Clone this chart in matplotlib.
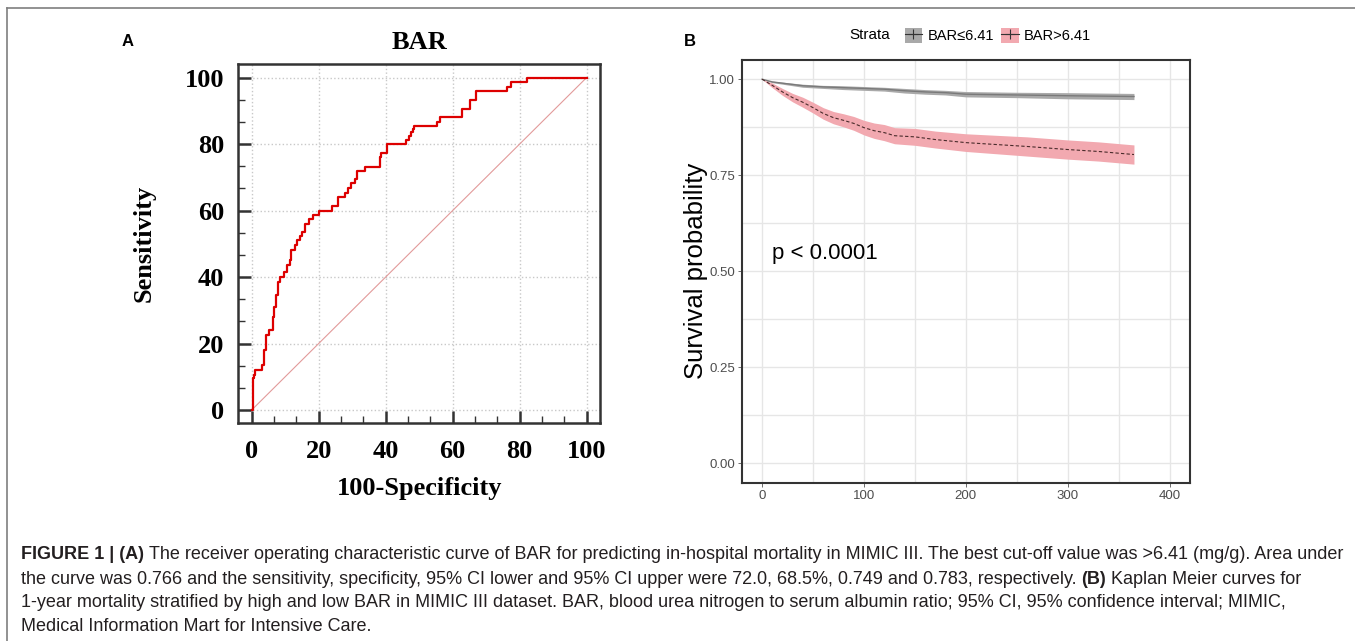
import numpy as np
import matplotlib.pyplot as plt
from matplotlib.patches import Patch
from matplotlib.lines import Line2D
from matplotlib.legend_handler import HandlerTuple

# ---------- data ----------
# ROC (A): 100-specificity vs sensitivity, step corners
fpr = [0, 0.3, 0.7, 1.0, 3.0, 3.6, 4.2, 5.3, 6.3, 6.8, 7.3, 8.0, 8.5, 9.5, 10.5,
       11.3, 11.7, 12.8, 13.5, 14.3, 15.0, 16.0, 17.0, 18.4, 20.0, 24.1, 25.9,
       27.9, 28.9, 29.6, 30.9, 31.4, 33.7, 38.4, 38.7, 40.4, 46.2, 47.0, 47.6,
       48.2, 48.6, 55.3, 56.3, 62.8, 65.1, 67.1, 76.3, 77.5, 82.1, 100]
tpr = [0, 9.5, 10.5, 12.0, 13.5, 18.0, 22.5, 24.0, 28.0, 31.0, 34.6, 38.6, 40.0,
       41.6, 43.6, 45.0, 48.0, 49.6, 51.0, 52.4, 53.4, 56.0, 57.4, 58.7, 60.0,
       61.4, 64.2, 65.4, 66.7, 68.2, 69.4, 72.0, 73.2, 76.0, 77.2, 80.0, 81.2,
       82.4, 83.5, 84.5, 85.3, 86.6, 88.0, 90.6, 93.3, 96.0, 97.3, 98.6, 100.0, 100.0]

# Kaplan-Meier (B)
days_lo = [0, 10, 25, 40, 60, 80, 100, 120, 140, 160, 180, 200, 250, 300, 365]
surv_lo = [1.0, 0.993, 0.988, 0.983, 0.980, 0.978, 0.976, 0.974, 0.970, 0.967,
           0.965, 0.961, 0.959, 0.957, 0.955]
lower_lo = [1.0, 0.991, 0.985, 0.979, 0.976, 0.973, 0.971, 0.969, 0.964, 0.961,
            0.959, 0.954, 0.952, 0.949, 0.947]
upper_lo = [1.0, 0.995, 0.991, 0.987, 0.984, 0.983, 0.981, 0.979, 0.976, 0.973,
            0.971, 0.968, 0.966, 0.965, 0.963]

days_hi = [0, 10, 20, 30, 40, 50, 60, 70, 80, 90, 100, 110, 120, 130, 150, 170,
           200, 230, 260, 300, 330, 365]
surv_hi = [1.0, 0.984, 0.967, 0.952, 0.940, 0.926, 0.911, 0.900, 0.893, 0.885,
           0.874, 0.866, 0.861, 0.853, 0.850, 0.843, 0.835, 0.830, 0.825, 0.817,
           0.812, 0.804]
lower_hi = [1.0, 0.978, 0.958, 0.941, 0.927, 0.912, 0.896, 0.884, 0.876, 0.867,
            0.855, 0.846, 0.840, 0.832, 0.828, 0.821, 0.812, 0.806, 0.800, 0.792,
            0.787, 0.779]
upper_hi = [1.0, 0.990, 0.976, 0.963, 0.953, 0.940, 0.926, 0.916, 0.910, 0.903,
            0.893, 0.886, 0.882, 0.874, 0.872, 0.865, 0.858, 0.854, 0.850, 0.842,
            0.837, 0.829]

strata = ['BAR≤6.41', 'BAR>6.41']
roc_ticks = [0, 20, 40, 60, 80, 100]
km_xticks = [0, 100, 200, 300, 400]
km_yticks = [0.0, 0.25, 0.5, 0.75, 1.0]

serif = ['Liberation Serif', 'DejaVu Serif']
sans = ['Liberation Sans', 'DejaVu Sans']

fig = plt.figure(figsize=(13.55, 6.41), dpi=100)

# frame lines around the figure
fig.add_artist(Line2D([7/1355, 1], [1 - 8/641, 1 - 8/641], color='#7f7f7f', lw=1.2))
fig.add_artist(Line2D([7/1355, 7/1355], [0, 1 - 8/641], color='#7f7f7f', lw=1.2))

# ---------- A: ROC ----------
ax1 = fig.add_axes([238.3/1355, 1 - 423.3/641, 361.7/1355, 359/641])
ax1.plot(fpr, tpr, drawstyle='steps-post', color='#dd0000', lw=1.6, zorder=3)
ax1.plot([0, 100], [0, 100], color='#e29a9a', lw=0.8, zorder=2)
ax1.set_xlim(-4, 104)
ax1.set_ylim(-4, 104)
ax1.set_xticks(roc_ticks)
ax1.set_yticks(roc_ticks)
ax1.set_xticks(np.arange(0, 101, 20/3), minor=True)
ax1.set_yticks(np.arange(0, 101, 20/3), minor=True)
ax1.grid(True, which='major', color='#c8c8c8', ls=':', lw=1.0)
ax1.tick_params(which='major', direction='in', length=9, width=1.8, color='#333333',
                labelsize=19, pad=12)
ax1.tick_params(which='minor', direction='in', length=5, width=1.0, color='#333333')
ax1.tick_params(axis='y', pad=10)
for lab in ax1.get_xticklabels() + ax1.get_yticklabels():
    lab.set_family(serif)
    lab.set_fontweight('bold')
for s in ax1.spines.values():
    s.set_color('#333333')
    s.set_linewidth(1.8)
ax1.set_title('BAR', family=serif, fontweight='bold', fontsize=19, pad=11)
ax1.set_xlabel('100-Specificity', family=serif, fontweight='bold', fontsize=19, labelpad=10)
ax1.set_ylabel('Sensitivity', family=serif, fontweight='bold', fontsize=19, labelpad=21)

fig.text(128/1355, 1 - 42/641, 'A', family=sans, fontweight='bold', fontsize=12,
         ha='center', va='center')

# ---------- B: Kaplan-Meier ----------
ax2 = fig.add_axes([741.7/1355, 1 - 482.7/641, 448.3/1355, 422.7/641])
ax2.fill_between(days_lo, lower_lo, upper_lo, color='#a9a9a9', lw=0, zorder=2)
ax2.plot(days_lo, surv_lo, color='#7a7a7a', lw=1.0, zorder=3)
ax2.fill_between(days_hi, lower_hi, upper_hi, color='#f2a9b0', lw=0, zorder=2)
ax2.plot(days_hi, surv_hi, color='#4a2b2b', lw=0.8, ls=(0, (3, 2)), zorder=3)
ax2.set_xlim(-20, 420)
ax2.set_ylim(-0.05, 1.05)
ax2.set_xticks(km_xticks)
ax2.set_yticks(km_yticks)
ax2.set_xticks([50, 150, 250, 350], minor=True)
ax2.set_yticks([0.125, 0.375, 0.625, 0.875], minor=True)
ax2.grid(True, which='both', color='#e6e6e6', lw=1.0, zorder=0)
ax2.set_axisbelow(True)
ax2.set_xticklabels([str(v) for v in km_xticks])
ax2.set_yticklabels(['%.2f' % v for v in km_yticks])
ax2.tick_params(which='major', length=3, width=0.6, color='#555555', labelcolor='#4d4d4d',
                labelsize=9.5, pad=2)
ax2.tick_params(which='minor', length=0)
for lab in ax2.get_xticklabels() + ax2.get_yticklabels():
    lab.set_family(sans)
for s in ax2.spines.values():
    s.set_color('#333333')
    s.set_linewidth(1.5)
ax2.set_ylabel('Survival probability', family=sans, fontsize=18.5)
ax2.yaxis.set_label_coords(-0.075, 0.5)
ax2.text(10, 0.547, 'p < 0.0001', family=sans, fontsize=16, ha='left', va='center')

fig.text(690/1355, 1 - 41/641, 'B', family=sans, fontweight='bold', fontsize=12,
         ha='center', va='center')

# legend on top
h_lo = (Patch(facecolor='#a9a9a9', edgecolor='none'),
        Line2D([], [], color='#333333', lw=0.8, marker='+', markersize=7, mew=0.8))
h_hi = (Patch(facecolor='#f2a9b0', edgecolor='none'),
        Line2D([], [], color='#333333', lw=0.8, marker='+', markersize=7, mew=0.8))
fig.text(870/1355, 1 - 35/641, 'Strata', family=sans, fontsize=11,
         ha='center', va='center')
leg = fig.legend([h_lo, h_hi], strata, handler_map={tuple: HandlerTuple(ndivide=1)},
                 ncol=2, frameon=False, loc='center left',
                 bbox_to_anchor=(893/1355, 1 - 35.5/641), handlelength=1.2,
                 handleheight=1.2, handletextpad=0.35, columnspacing=0.5,
                 borderpad=0.3, prop={'family': sans, 'size': 10.5})

# ---------- caption ----------
cax = fig.add_axes([0, 0, 1, 1])
cax.axis('off')
cax.set_zorder(-1)
cap_col = '#231f20'
cap_size = 13


def caption_line(parts, y):
    prev = None
    for txt, bold in parts:
        w = 'bold' if bold else 'normal'
        if prev is None:
            prev = cax.annotate(txt, xy=(21, y), xycoords='figure pixels', ha='left',
                                va='bottom', fontsize=cap_size, family=sans,
                                fontweight=w, color=cap_col)
        else:
            prev = cax.annotate(txt, xy=(1, 0), xycoords=prev, xytext=(3.5, 0),
                                textcoords='offset points', ha='left', va='bottom',
                                fontsize=cap_size, family=sans, fontweight=w,
                                color=cap_col)


caption_line([('FIGURE 1 | (A)', True),
              ('The receiver operating characteristic curve of BAR for predicting in-hospital '
               'mortality in MIMIC III. The best cut-off value was >6.41 (mg/g). Area under', False)],
             641 - 563)
caption_line([('the curve was 0.766 and the sensitivity, specificity, 95% CI lower and 95% CI '
               'upper were 72.0, 68.5%, 0.749 and 0.783, respectively.', False),
              ('(B)', True), ('Kaplan Meier curves for', False)],
             641 - 588)
caption_line([('1-year mortality stratified by high and low BAR in MIMIC III dataset. BAR, blood '
               'urea nitrogen to serum albumin ratio; 95% CI, 95% confidence interval; MIMIC,',
               False)], 641 - 611)
caption_line([('Medical Information Mart for Intensive Care.', False)], 641 - 635)

fig.savefig('out.png', dpi=100)
